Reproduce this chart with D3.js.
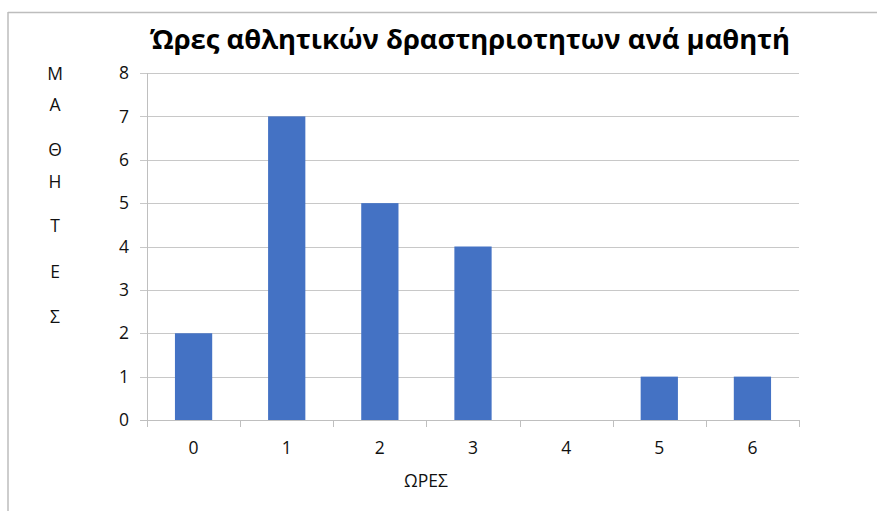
<!DOCTYPE html>
<html>
<head>
<meta charset="utf-8">
<script src="https://cdn.jsdelivr.net/npm/d3@7"></script>
<style>
  html, body { margin: 0; padding: 0; background: #fff; }
  svg { display: block; font-family: "Open Sans", "Noto Sans", sans-serif; }
</style>
</head>
<body>
<svg id="chart" width="877" height="511"></svg>
<script>
// Hours of sport per student: number of students for each hour count
const hours = ["0", "1", "2", "3", "4", "5", "6"];
const students = [2, 7, 5, 4, 0, 1, 1];
const yTicks = [0, 1, 2, 3, 4, 5, 6, 7, 8];
const titleText = "Ώρες αθλητικών δραστηριοτητων ανά μαθητή";
const xTitle = "ΩΡΕΣ";
const yTitleLetters = ["Μ", "Α", "Θ", "Η", "Τ", "Ε", "Σ"];

const svg = d3.select("#chart");
const W = 877, H = 511;
const margin = { left: 147, right: 78, top: 73, bottom: 91 };
const plotW = W - margin.left - margin.right;
const plotH = H - margin.top - margin.bottom;
const labelSize = 17.5;
const textColor = "#111";

// Frame around the chart area
svg.append("line").attr("x1", 8).attr("x2", W).attr("y1", 12.5).attr("y2", 12.5)
  .attr("stroke", "#bdbdbd").attr("stroke-width", 1.5);
svg.append("line").attr("x1", 8).attr("x2", 8).attr("y1", 12).attr("y2", H)
  .attr("stroke", "#bdbdbd").attr("stroke-width", 1.5);

const x = d3.scaleBand().domain(hours).range([0, plotW]).paddingInner(0.6).paddingOuter(0.3);
const y = d3.scaleLinear().domain([0, 8]).range([plotH, 0]);

const g = svg.append("g").attr("transform", `translate(${margin.left},${margin.top})`);

// Horizontal gridlines with short left ticks
g.append("g").selectAll("line").data(yTicks).join("line")
  .attr("x1", -7).attr("x2", plotW)
  .attr("y1", d => Math.round(y(d)) + 0.5).attr("y2", d => Math.round(y(d)) + 0.5)
  .attr("stroke", d => d === 0 ? "#bfbfbf" : "#c8c8c8").attr("stroke-width", 1);

// Y tick labels
g.append("g").selectAll("text").data(yTicks).join("text")
  .attr("x", -18).attr("y", d => y(d)).attr("dy", "0.35em")
  .attr("text-anchor", "end").attr("font-size", labelSize).attr("fill", textColor)
  .text(d => d);

// Vertical axis line
g.append("line").attr("x1", 0.5).attr("x2", 0.5).attr("y1", 0).attr("y2", plotH + 7)
  .attr("stroke", "#bfbfbf");

// Bars
g.append("g").selectAll("rect").data(hours).join("rect")
  .attr("x", (d) => x(d))
  .attr("width", x.bandwidth())
  .attr("y", (d, i) => y(students[i]))
  .attr("height", (d, i) => y(0) - y(students[i]))
  .attr("fill", "#4472C4");

// Category boundary ticks on the x axis
g.append("g").selectAll("line").data(d3.range(hours.length + 1)).join("line")
  .attr("x1", i => Math.round(i * plotW / hours.length) + 0.5)
  .attr("x2", i => Math.round(i * plotW / hours.length) + 0.5)
  .attr("y1", plotH).attr("y2", plotH + 7)
  .attr("stroke", "#bfbfbf");

// X tick labels
g.append("g").selectAll("text").data(hours).join("text")
  .attr("x", d => x(d) + x.bandwidth() / 2).attr("y", plotH + 28)
  .attr("dy", "0.35em").attr("text-anchor", "middle")
  .attr("font-size", labelSize).attr("fill", textColor)
  .text(d => d);

// Axis titles
svg.append("text").attr("x", 426).attr("y", 481).attr("dy", "0.35em")
  .attr("text-anchor", "middle").attr("font-size", labelSize).attr("fill", textColor).text(xTitle);

const letterY = [74, 105, 150, 182, 226, 272, 317];
svg.append("g").selectAll("text").data(yTitleLetters).join("text")
  .attr("x", 55).attr("y", (d, i) => letterY[i]).attr("dy", "0.35em")
  .attr("text-anchor", "middle").attr("font-size", labelSize).attr("fill", textColor)
  .text(d => d);

// Chart title
svg.append("text").attr("x", 470).attr("y", 40).attr("dy", "0.35em")
  .attr("text-anchor", "middle").attr("font-size", 27).attr("font-weight", "bold")
  .attr("fill", "#000").attr("textLength", 640).attr("lengthAdjust", "spacingAndGlyphs")
  .text(titleText);
</script>
</body>
</html>
